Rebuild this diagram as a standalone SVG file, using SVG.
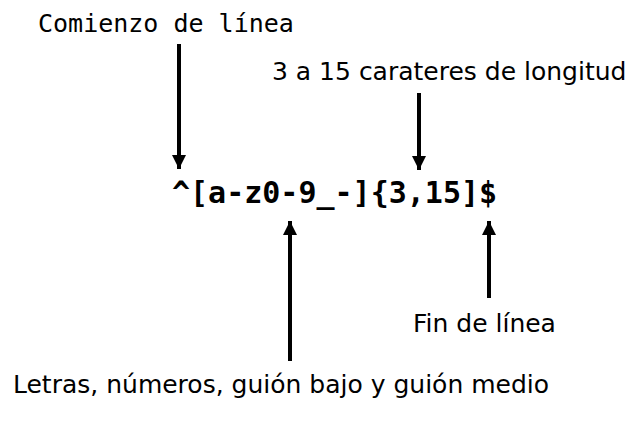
<svg xmlns="http://www.w3.org/2000/svg" width="633" height="424" viewBox="0 0 633 424">
<defs>
<style>
.mono{font-family:"DejaVu Sans Mono","Liberation Mono",monospace;fill:#000}
.sans{font-family:"DejaVu Sans","Liberation Sans",sans-serif;fill:#000;font-size:25px}
.ln{stroke:#000;stroke-width:4;fill:none}
</style>
<marker id="ah" viewBox="0 0 10 10" refX="10" refY="5" markerWidth="3.6" markerHeight="3.6" markerUnits="strokeWidth" orient="auto">
<path d="M0,0 L10,5 L0,10 Z" fill="#000"/>
</marker>
</defs>
<rect width="633" height="424" fill="#fff"/>
<g id="regex"><text class="mono" x="172" y="203" font-size="30" font-weight="bold">^[a-z0-9_-]{3,15]$</text></g>
<g id="start"><text class="mono" x="38" y="32" font-size="25">Comienzo de línea</text></g>
<g id="length"><text class="sans" x="272" y="80">3 a 15 carateres de longitud</text></g>
<g id="end"><text class="sans" x="413" y="332">Fin de línea</text></g>
<g id="chars"><text class="sans" x="13" y="393">Letras, números, guión bajo y guión medio</text></g>
<g id="connectors">
<line class="ln" x1="179" y1="44" x2="179" y2="169" marker-end="url(#ah)"/>
<line class="ln" x1="419" y1="93" x2="419" y2="170" marker-end="url(#ah)"/>
<line class="ln" x1="290" y1="361" x2="290" y2="221" marker-end="url(#ah)"/>
<line class="ln" x1="489" y1="298" x2="489" y2="221" marker-end="url(#ah)"/>
</g>
</svg>
